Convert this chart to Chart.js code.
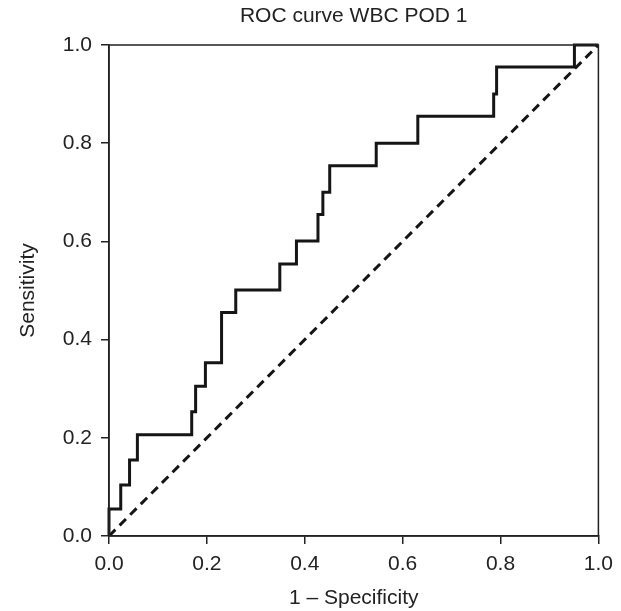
<!DOCTYPE html>
<html>
<head>
<meta charset="utf-8">
<script src="https://cdn.jsdelivr.net/npm/chart.js@4.4.1/dist/chart.umd.min.js"></script>
<style>
  html, body { margin: 0; padding: 0; background: #fff; }
  #wrap { width: 621px; height: 611px; }
</style>
</head>
<body>
<div id="wrap"><canvas id="rocChart"></canvas></div>
<script>
// ROC curve corners (1 - specificity, sensitivity)
var fpr = [0, 0, 0.024, 0.042, 0.058, 0.169, 0.177, 0.197, 0.230, 0.259, 0.349, 0.383, 0.427, 0.437, 0.451, 0.546, 0.631, 0.786, 0.792, 0.951, 1.0];
var tpr = [0, 0.055, 0.104, 0.155, 0.206, 0.253, 0.305, 0.353, 0.455, 0.501, 0.554, 0.601, 0.655, 0.700, 0.754, 0.800, 0.855, 0.900, 0.955, 1.0, 1.0];
var refLine = [0, 1];
var tickValues = [0, 0.2, 0.4, 0.6, 0.8, 1.0];

document.addEventListener('DOMContentLoaded', function () {
    var rocPoints = fpr.map(function (x, i) { return { x: x, y: tpr[i] }; });
    var diagPoints = refLine.map(function (v) { return { x: v, y: v }; });
    var font = { family: 'Liberation Sans, Arial', size: 21 };

    var frame = {
        id: 'frame',
        afterDatasetsDraw: function (chart) {
            var a = chart.chartArea, c = chart.ctx;
            c.save();
            c.strokeStyle = '#222';
            c.lineWidth = 1.5;
            c.strokeRect(a.left, a.top, a.right - a.left, a.bottom - a.top);
            c.restore();
        }
    };

    var ctx = document.getElementById('rocChart').getContext('2d');
    new Chart(ctx, {
        type: 'line',
        data: {
            datasets: [
                {
                    label: 'ROC',
                    data: rocPoints,
                    stepped: 'before',
                    borderColor: '#151515',
                    borderWidth: 3,
                    pointRadius: 0,
                    fill: false,
                    clip: 4
                },
                {
                    label: 'Reference',
                    data: diagPoints,
                    borderColor: '#151515',
                    borderWidth: 3,
                    borderDash: [9, 6],
                    pointRadius: 0,
                    fill: false
                }
            ]
        },
        options: {
            responsive: true,
            maintainAspectRatio: false,
            animation: false,
            layout: { padding: { left: 0, right: 22, top: 0, bottom: 0 } },
            scales: {
                x: {
                    type: 'linear',
                    min: 0,
                    max: 1,
                    afterFit: function (s) { s.height = 75; },
                    afterBuildTicks: function (s) { s.ticks = tickValues.map(function (v) { return { value: v }; }); },
                    grid: { drawOnChartArea: false, tickLength: 8, color: '#222', lineWidth: 1.5 },
                    border: { color: '#222', width: 1.5 },
                    ticks: {
                        color: '#222',
                        padding: 8,
                        maxRotation: 0,
                        font: font,
                        callback: function (value) { return value.toFixed(1); }
                    },
                    title: {
                        display: true,
                        text: '1 \u2013 Specificity',
                        color: '#222',
                        padding: { top: 0, bottom: 0 },
                        font: font
                    }
                },
                // top axis only carries the chart title, centred over the plot
                x2: {
                    type: 'linear',
                    position: 'top',
                    min: 0,
                    max: 1,
                    afterFit: function (s) { s.height = 45; },
                    grid: { display: false },
                    border: { display: false },
                    ticks: { display: false },
                    title: {
                        display: true,
                        text: 'ROC curve WBC POD 1',
                        color: '#222',
                        padding: { top: 4, bottom: 0 },
                        font: font
                    }
                },
                y: {
                    type: 'linear',
                    min: 0,
                    max: 1,
                    afterFit: function (s) { s.width = 109; },
                    afterBuildTicks: function (s) { s.ticks = tickValues.map(function (v) { return { value: v }; }); },
                    grid: { drawOnChartArea: false, tickLength: 8, color: '#222', lineWidth: 1.5 },
                    border: { color: '#222', width: 1.5 },
                    ticks: {
                        color: '#222',
                        padding: 9,
                        font: font,
                        callback: function (value) { return value.toFixed(1); }
                    },
                    title: {
                        display: true,
                        text: 'Sensitivity',
                        color: '#222',
                        padding: { top: 16, bottom: 0 },
                        font: font
                    }
                }
            },
            plugins: {
                legend: { display: false },
                tooltip: { enabled: false },
                title: { display: false }
            }
        },
        plugins: [frame]
    });
});
</script>
</body>
</html>
